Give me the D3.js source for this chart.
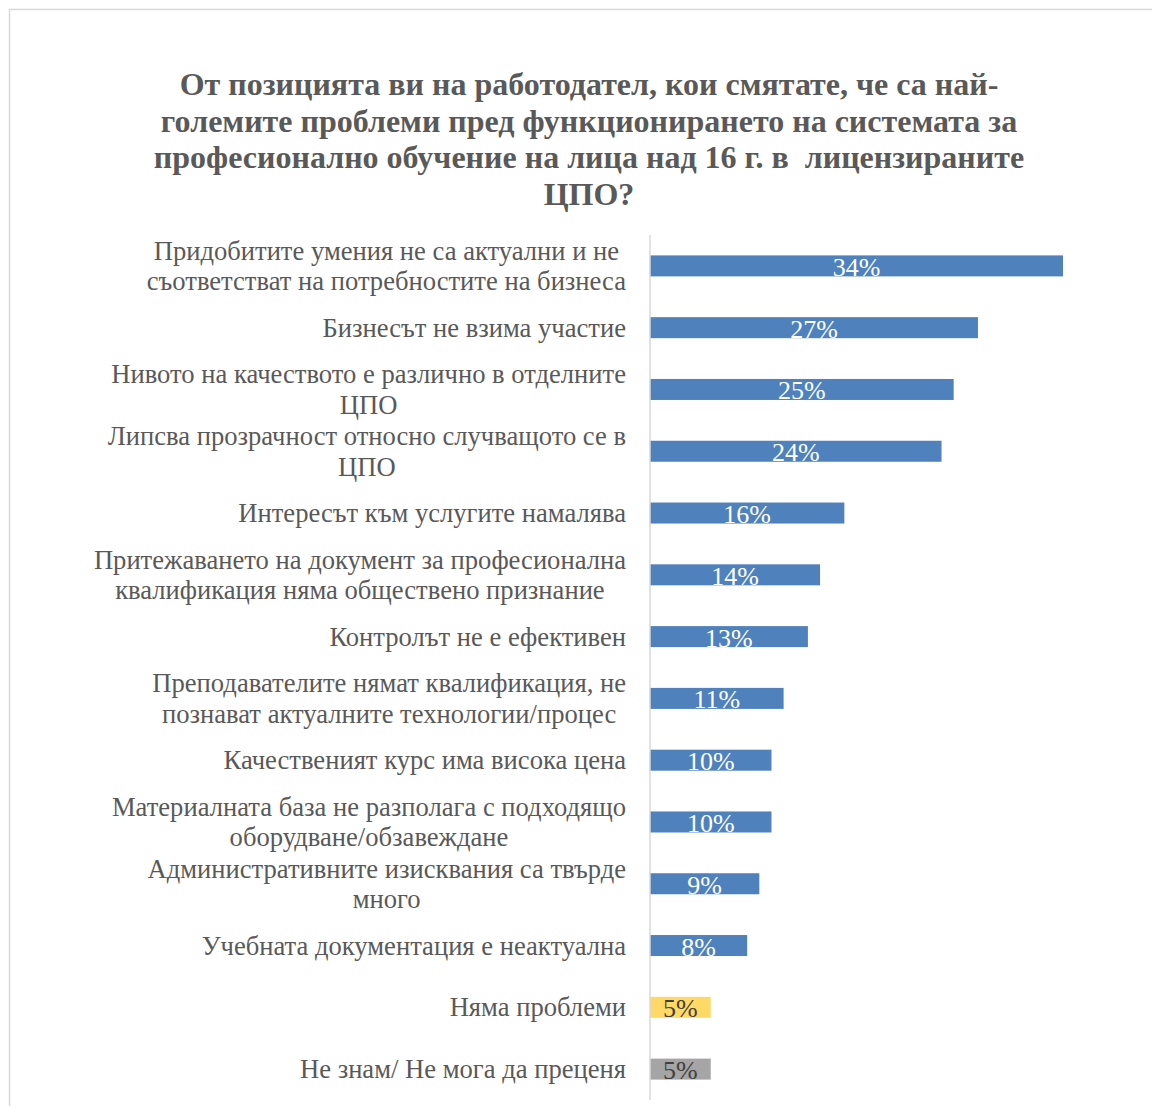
<!DOCTYPE html>
<html>
<head>
<meta charset="utf-8">
<script src="https://cdn.jsdelivr.net/npm/d3@7"></script>
<style>
  html, body { margin: 0; padding: 0; background: #fff; }
  svg { display: block; }
</style>
</head>
<body>
<script>
// Survey answers: employers' view on problems of vocational training in licensed centres
const titleLines = [
  "От позицията ви на работодател, кои смятате, че са най-",
  "големите проблеми пред функционирането на системата за",
  "професионално обучение на лица над 16 г. в  лицензираните",
  "ЦПО?"
];

const categories = [
  ["Придобитите умения не са актуални и не", "съответстват на потребностите на бизнеса"],
  ["Бизнесът не взима участие"],
  ["Нивото на качеството е различно в отделните", "ЦПО"],
  ["Липсва прозрачност относно случващото се в", "ЦПО"],
  ["Интересът към услугите намалява"],
  ["Притежаването на документ за професионална", "квалификация няма обществено признание"],
  ["Контролът не е ефективен"],
  ["Преподавателите нямат квалификация, не", "познават актуалните технологии/процес"],
  ["Качественият курс има висока цена"],
  ["Материалната база не разполага с подходящо", "оборудване/обзавеждане"],
  ["Административните изисквания са твърде", "много"],
  ["Учебната документация е неактуална"],
  ["Няма проблеми"],
  ["Не знам/ Не мога да преценя"]
];

const values = [34, 27, 25, 24, 16, 14, 13, 11, 10, 10, 9, 8, 5, 5];

// Bar group: 0 = problem named, 1 = no problems, 2 = don't know
const groups = [0, 0, 0, 0, 0, 0, 0, 0, 0, 0, 0, 0, 1, 2];
const groupFill = ["#4f81bd", "#ffd966", "#a5a5a5"];
const groupText = ["#ffffff", "#404040", "#404040"];

const W = 1152, H = 1106;
const svg = d3.select("body").append("svg")
  .attr("width", W).attr("height", H)
  .style("font-family", "'Liberation Serif', 'Times New Roman', serif");

// chart frame
svg.append("rect")
  .attr("x", 9.5).attr("y", 9.5)
  .attr("width", 1200).attr("height", 1200)
  .attr("fill", "#fff").attr("stroke", "#d9d9d9").attr("stroke-width", 1.5);

// title
const title = svg.append("text")
  .attr("text-anchor", "middle")
  .attr("fill", "#595959")
  .attr("font-weight", "bold")
  .attr("font-size", 32)
  .attr("xml:space", "preserve")
  .style("white-space", "pre");
titleLines.forEach((t, i) => {
  title.append("tspan").attr("x", 589).attr("y", 95 + i * 36.7).text(t);
});

const x0 = 650;
const x = d3.scaleLinear().domain([0, 34]).range([x0, 1063]);
const y = d3.scaleBand().domain(d3.range(values.length)).range([235, 1100]).paddingInner(0.66).paddingOuter(0.33);

// bars
svg.append("g").selectAll("rect").data(values).join("rect")
  .attr("x", x(0))
  .attr("y", (d, i) => y(i))
  .attr("width", d => x(d) - x(0))
  .attr("height", y.bandwidth())
  .attr("fill", (d, i) => groupFill[groups[i]]);

// vertical category axis line
svg.append("line")
  .attr("x1", x0).attr("x2", x0)
  .attr("y1", 235).attr("y2", 1100)
  .attr("stroke", "#d9d9d9").attr("stroke-width", 1.5);

// value labels
svg.append("g").selectAll("text").data(values).join("text")
  .attr("x", d => (x(0) + x(d)) / 2)
  .attr("y", (d, i) => y(i) + y.bandwidth() / 2 + 10)
  .attr("text-anchor", "middle")
  .attr("font-size", 26)
  .attr("fill", (d, i) => groupText[groups[i]])
  .text(d => d + "%");

// category labels: block right-aligned to the axis, lines centred within block
const labelFont = 26.6, lineH = 30.5;
const lg = svg.append("g").attr("fill", "#595959").attr("font-size", labelFont);
categories.forEach((lines, i) => {
  const cy = y(i) + y.bandwidth() / 2;
  const g = lg.append("g");
  const texts = lines.map((t, k) => g.append("text")
    .attr("text-anchor", "middle")
    .attr("y", cy + (k - (lines.length - 1) / 2) * lineH + 9)
    .text(t));
  const widths = texts.map(t => t.node().getComputedTextLength());
  const maxW = d3.max(widths);
  const cx = 626 - maxW / 2;
  texts.forEach(t => t.attr("x", cx));
});
</script>
</body>
</html>
